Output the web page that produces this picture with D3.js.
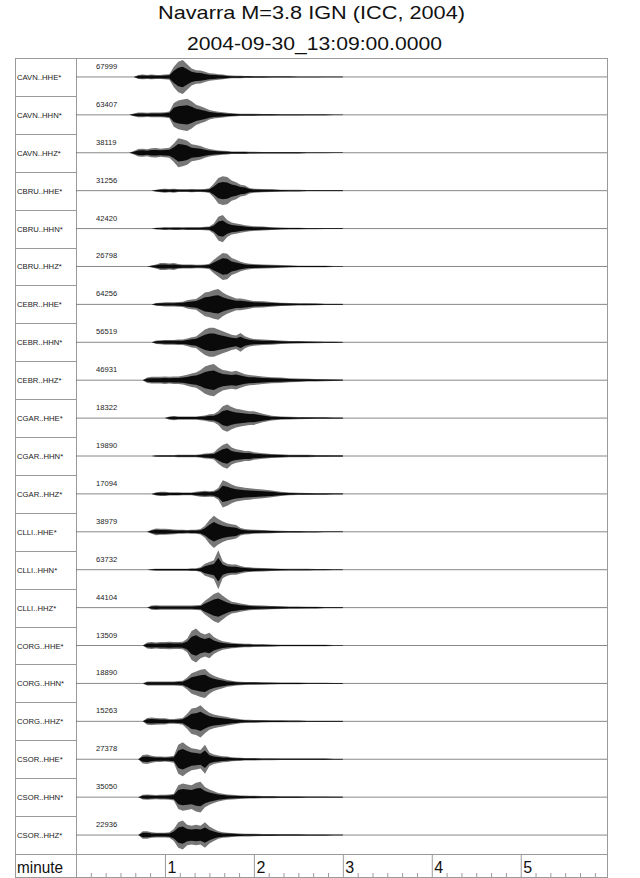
<!DOCTYPE html>
<html>
<head>
<meta charset="utf-8">
<script src="https://cdn.jsdelivr.net/npm/d3@7"></script>
<style>
  body { margin: 0; background: #fff; }
  svg { display: block; font-family: "Liberation Sans", Arial, sans-serif; }
</style>
</head>
<body>
<div id="chart_area"></div>
<script>
// chart data
const titleLines = ['Navarra M=3.8 IGN (ICC, 2004)', '2004-09-30_13:09:00.0000'];
const channels = [
  'CAVN..HHE*', 'CAVN..HHN*', 'CAVN..HHZ*',
  'CBRU..HHE*', 'CBRU..HHN*', 'CBRU..HHZ*',
  'CEBR..HHE*', 'CEBR..HHN*', 'CEBR..HHZ*',
  'CGAR..HHE*', 'CGAR..HHN*', 'CGAR..HHZ*',
  'CLLI..HHE*', 'CLLI..HHN*', 'CLLI..HHZ*',
  'CORG..HHE*', 'CORG..HHN*', 'CORG..HHZ*',
  'CSOR..HHE*', 'CSOR..HHN*', 'CSOR..HHZ*'
];
const peakCounts = [
  67999, 63407, 38119, 31256, 42420, 26798, 64256, 56519, 46931,
  18322, 19890, 17094, 38979, 63732, 44104, 13509, 18890, 15263,
  27378, 35050, 22936
];
// minutes after 13:09:00 where the envelope was read
const times = [
  0.6, 0.65, 0.7, 0.75, 0.8, 0.85, 0.9, 0.95, 1.0, 1.05,
  1.1, 1.15, 1.2, 1.25, 1.3, 1.35, 1.4, 1.45, 1.5, 1.55,
  1.6, 1.65, 1.7, 1.75, 1.8, 1.85, 1.9, 1.95, 2.0,
  2.1, 2.2, 2.3, 2.4, 2.5, 2.6, 2.7, 2.8, 2.9, 3.0
];
// trace envelope, fraction of the trace peak, one row per channel
const envelopes = [
  [0,0,.12,.14,.12,.14,.12,.12,.14,.16, .6,.9,1.0,.75,.5,.4,.38,.3,.22,.2, .16,.14,.1,.08,.07,.07,.06,.06,.05, .05,.04,.04,.04,.03,.03,.03,.02,.02,.02],
  [0,.08,.14,.14,.12,.14,.14,.14,.16,.2, .7,.85,.9,.95,.8,.6,.5,.4,.28,.22, .18,.16,.12,.1,.08,.07,.07,.06,.06, .05,.05,.04,.04,.04,.03,.03,.03,.02,.02],
  [0,.1,.22,.24,.2,.26,.28,.24,.26,.3, .55,.85,.8,.7,.5,.45,.4,.3,.22,.18, .14,.12,.1,.08,.08,.07,.07,.06,.06, .05,.05,.04,.04,.04,.03,.03,.03,.02,.02],
  [0,0,0,0,0,0,.06,.1,.12,.1, .12,.08,.08,.08,.1,.08,.08,.1,.14,.4, .75,.85,.8,.6,.5,.35,.3,.16,.12, .1,.08,.06,.05,.05,.04,.04,.03,.03,.03],
  [0,0,0,0,0,0,.05,.06,.08,.07, .08,.08,.07,.08,.08,.08,.08,.1,.12,.3, .7,.8,.5,.35,.3,.25,.2,.16,.14, .12,.08,.06,.05,.05,.04,.04,.03,.03,.03],
  [0,0,0,0,0,.06,.12,.2,.2,.18, .2,.14,.12,.12,.12,.1,.1,.12,.16,.4, .6,.8,.75,.5,.4,.28,.2,.16,.14, .12,.1,.08,.06,.05,.05,.04,.04,.03,.03],
  [0,0,0,0,0,0,.08,.1,.12,.12, .12,.14,.16,.24,.28,.32,.5,.7,.75,.85, .9,.7,.55,.45,.35,.35,.3,.25,.2, .18,.14,.1,.08,.07,.06,.05,.04,.04,.03],
  [0,0,0,0,0,0,.1,.12,.14,.14, .14,.16,.16,.22,.3,.34,.55,.75,.85,.85, .75,.65,.55,.45,.4,.55,.35,.25,.2, .16,.14,.1,.08,.07,.06,.05,.04,.04,.03],
  [0,0,0,0,.16,.2,.2,.2,.22,.2, .22,.22,.26,.32,.4,.45,.6,.8,.9,.95, .75,.6,.55,.5,.55,.45,.35,.3,.28, .22,.18,.16,.12,.1,.08,.07,.06,.05,.04],
  [0,0,0,0,0,0,0,0,0,.1, .12,.1,.1,.1,.1,.1,.12,.16,.22,.24, .4,.7,.8,.65,.55,.5,.45,.4,.4, .25,.14,.1,.08,.07,.06,.05,.05,.04,.04],
  [0,0,0,0,0,0,.04,.06,.06,.06, .06,.08,.08,.08,.08,.08,.1,.14,.16,.2, .45,.65,.75,.5,.4,.35,.3,.3,.22, .16,.12,.1,.08,.08,.07,.06,.06,.05,.04],
  [0,0,0,0,0,0,.1,.12,.12,.1, .1,.1,.08,.08,.08,.12,.16,.18,.16,.18, .35,.8,.7,.55,.45,.4,.36,.34,.3, .26,.2,.12,.08,.07,.06,.05,.05,.04,.04],
  [0,0,0,0,0,.12,.2,.18,.18,.16, .14,.12,.12,.1,.12,.12,.16,.35,.7,.95, .75,.6,.5,.45,.4,.22,.16,.14,.12, .1,.08,.06,.05,.05,.04,.04,.03,.03,.03],
  [0,0,0,0,0,.04,.06,.06,.06,.06, .06,.06,.06,.06,.08,.08,.14,.35,.45,.55, 1.15,.5,.35,.3,.3,.22,.16,.14,.12, .1,.08,.06,.05,.05,.05,.04,.04,.03,.03],
  [0,0,0,0,0,.12,.14,.12,.12,.12, .12,.12,.12,.12,.12,.14,.16,.4,.6,.8, .9,.7,.5,.35,.3,.24,.2,.16,.14, .12,.1,.08,.07,.06,.05,.05,.04,.04,.03],
  [0,0,0,0,.18,.2,.18,.2,.2,.22, .2,.2,.22,.4,.85,1.0,.75,.65,.75,.5, .35,.25,.2,.16,.14,.12,.1,.1,.08, .07,.06,.05,.05,.05,.04,.04,.04,.03,.03],
  [0,0,0,0,.12,.12,.12,.12,.12,.12, .12,.14,.16,.35,.6,.7,.8,.85,.6,.45, .35,.28,.2,.16,.12,.1,.09,.08,.08, .07,.06,.05,.05,.05,.04,.04,.04,.03,.03],
  [0,0,0,0,.2,.22,.2,.18,.18,.14, .14,.16,.2,.45,.75,.8,.95,.7,.5,.4, .35,.3,.25,.2,.16,.12,.1,.09,.08, .07,.06,.06,.05,.05,.04,.04,.04,.03,.03],
  [0,0,0,.25,.28,.2,.16,.16,.14,.16, .2,.85,1.0,.8,.65,.6,.55,.85,.4,.28, .22,.18,.16,.12,.1,.09,.08,.08,.07, .06,.06,.05,.05,.05,.04,.04,.04,.03,.03],
  [0,0,0,.14,.16,.14,.12,.14,.14,.16, .2,.7,.8,.75,.7,.85,.9,.6,.45,.35, .25,.2,.16,.14,.12,.1,.09,.08,.08, .07,.06,.05,.05,.05,.04,.04,.04,.03,.03],
  [0,0,0,.22,.22,.16,.14,.14,.14,.16, .35,.75,.85,.6,.55,.6,.55,.75,.5,.35, .22,.16,.14,.12,.1,.09,.08,.08,.07, .06,.06,.05,.05,.05,.04,.04,.04,.03,.03]
];
const majorTicks = [1, 2, 3, 4, 5];
const axisLabel = 'minute';

const svgWidth = 640;
const svgHeight = 878;
const frame = { left: 15, right: 607, top: 58, bottom: 877, labelCol: 76, axisTop: 854 };
const gridColor = '#9a9a9a';

const svg = d3
  .select('#chart_area')
  .append('svg')
  .attr('width', svgWidth)
  .attr('height', svgHeight);

const x = d3.scaleLinear().domain([0, 5.97]).range([frame.labelCol, frame.right]);
const row = d3.scaleBand().domain(channels).range([frame.top, frame.axisTop]);
const amp = d3.scaleLinear().domain([0, 1]).range([0, 17]);

// title, stretched a bit like the original raster
const titleX = [158, 187];
const titleY = [19, 50];
const titleLen = [307, 255];
titleLines.forEach((t, i) => {
  svg
    .append('text')
    .attr('x', titleX[i])
    .attr('y', titleY[i])
    .attr('font-size', 19)
    .attr('textLength', titleLen[i])
    .attr('lengthAdjust', 'spacingAndGlyphs')
    .attr('fill', '#111')
    .text(t);
});

// frame
const grid = svg.append('g').attr('stroke', gridColor).attr('stroke-width', 1);
grid
  .append('rect')
  .attr('x', frame.left + 0.5)
  .attr('y', frame.top + 0.5)
  .attr('width', frame.right - frame.left)
  .attr('height', frame.bottom - frame.top)
  .attr('fill', 'none');
grid
  .append('line')
  .attr('x1', frame.labelCol + 0.5)
  .attr('x2', frame.labelCol + 0.5)
  .attr('y1', frame.top)
  .attr('y2', frame.bottom);
channels.forEach((c) => {
  const yb = Math.round(row(c) + row.bandwidth()) + 0.5;
  grid
    .append('line')
    .attr('x1', frame.left)
    .attr('x2', yb > frame.axisTop ? frame.right : frame.labelCol)
    .attr('y1', yb)
    .attr('y2', yb);
});

// traces
const traces = svg.append('g');
channels.forEach((c, k) => {
  const cy = row(c) + row.bandwidth() / 2;
  const g = traces.append('g');
  g.append('line')
    .attr('x1', x(0))
    .attr('x2', frame.right)
    .attr('y1', cy)
    .attr('y2', cy)
    .attr('stroke', '#6a6a6a')
    .attr('stroke-width', 0.8);

  const outer = d3
    .area()
    .x((d, i) => x(times[i]))
    .y0((d) => cy + amp(d))
    .y1((d) => cy - amp(d));
  const inner = d3
    .area()
    .x((d, i) => x(times[i]))
    .y0((d) => cy + amp(d) * 0.6)
    .y1((d) => cy - amp(d) * 0.6);
  g.append('path')
    .datum(envelopes[k])
    .attr('d', outer)
    .attr('fill', '#777');
  g.append('path')
    .datum(envelopes[k])
    .attr('d', inner)
    .attr('fill', '#0a0a0a');

  g.append('text')
    .attr('x', 96)
    .attr('y', cy - 8)
    .attr('font-size', 7.6)
    .attr('fill', '#222')
    .text(peakCounts[k]);
  svg
    .append('text')
    .attr('x', frame.left + 2)
    .attr('y', cy + 3)
    .attr('font-size', 7.7)
    .attr('fill', '#222')
    .text(c);
});

// time axis
const axisG = svg.append('g').attr('transform', `translate(0,${frame.bottom})`);
axisG
  .call(
    d3.axisTop(x)
      .tickValues(d3.range(1, 36).map((s) => s / 6).filter((v) => Math.abs(v - Math.round(v)) > 1e-6))
      .tickSize(4)
      .tickFormat('')
  )
  .call((g) => g.select('.domain').remove())
  .call((g) => g.selectAll('line').attr('stroke', gridColor));
const majorG = svg.append('g').attr('transform', `translate(0,${frame.bottom})`);
majorG
  .call(d3.axisTop(x).tickValues(majorTicks).tickSize(frame.bottom - frame.axisTop).tickFormat(d3.format('d')))
  .call((g) => g.select('.domain').remove())
  .call((g) => g.selectAll('line').attr('stroke', gridColor))
  .call((g) =>
    g
      .selectAll('text')
      .attr('x', 2)
      .attr('y', -4)
      .attr('dy', null)
      .attr('text-anchor', 'start')
      .attr('font-size', 16)
      .attr('font-family', '"Liberation Sans", Arial, sans-serif')
      .attr('fill', '#111')
  );
svg
  .append('text')
  .attr('x', frame.left + 2)
  .attr('y', frame.bottom - 4)
  .attr('font-size', 16)
  .attr('textLength', 46)
  .attr('lengthAdjust', 'spacingAndGlyphs')
  .attr('fill', '#111')
  .text(axisLabel);
</script>
</body>
</html>
